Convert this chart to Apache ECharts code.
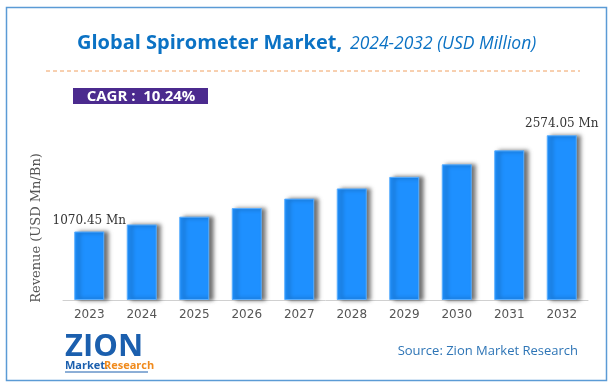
<!DOCTYPE html>
<html>
<head>
<meta charset="utf-8">
<script src="https://cdn.jsdelivr.net/npm/echarts@6/dist/echarts.min.js"></script>
<style>
html,body{margin:0;padding:0;background:#fff;}
#chart{width:613px;height:390px;}
</style>
</head>
<body>
<div id="chart"></div>
<script>
var years = ['2023','2024','2025','2026','2027','2028','2029','2030','2031','2032'];
var revenue = [1070.45, 1180, 1302, 1436, 1584, 1743, 1924, 2120, 2338, 2574.05];
var labelIdx = [0, 9];
var titleMain = 'Global Spirometer Market,';
var titleSub = '2024-2032 (USD Million)';
var cagrText = 'CAGR :  10.24%';
var sourceText = 'Source: Zion Market Research';
var yName = 'Revenue (USD Mn/Bn)';

var chart = echarts.init(document.getElementById('chart'));
chart.setOption({
  animation: false,
  backgroundColor: '#fff',
  grid: {left: 63, right: 25, top: 108, bottom: 90},
  xAxis: {
    type: 'category',
    data: years,
    axisLine: {lineStyle: {color: '#d0d0d0', width: 1}},
    axisTick: {show: false},
    axisLabel: {color: '#555', fontFamily: 'DejaVu Sans', fontSize: 12, margin: 9}
  },
  yAxis: {
    type: 'value', min: 0, max: 3000,
    axisLine: {show: false}, axisTick: {show: false},
    axisLabel: {show: false}, splitLine: {show: false}
  },
  series: [{
    type: 'bar',
    data: revenue,
    barWidth: 30,
    itemStyle: {
      color: '#1e90ff',
      borderColor: '#5aaeff', borderWidth: 1,
      shadowColor: 'rgba(0,0,0,0.55)', shadowBlur: 4, shadowOffsetX: 4, shadowOffsetY: 0
    },
    label: {
      show: true, position: 'top', distance: 5,
      color: '#333', fontFamily: 'DejaVu Serif', fontSize: 12,
      formatter: function (p) {
        return labelIdx.indexOf(p.dataIndex) >= 0 ? p.value.toFixed(2) + ' Mn' : '';
      }
    }
  }],
  graphic: [
    {type: 'rect', shape: {x: 6.5, y: 7.5, width: 600, height: 373}, style: {fill: null, stroke: '#5b9bd5', lineWidth: 1.5}, silent: true},
    {type: 'text', x: 77, y: 43, style: {text: titleMain, fill: '#0b72c4', font: 'bold 20px "Open Sans"', textVerticalAlign: 'middle'}},
    {type: 'text', x: 350, y: 44, style: {text: titleSub, fill: '#0b72c4', font: 'italic 17.5px "Open Sans"', textVerticalAlign: 'middle'}},
    {type: 'line', shape: {x1: 46, y1: 71, x2: 580, y2: 71}, style: {stroke: '#f0a060', lineWidth: 1, lineDash: [4, 3]}},
    {type: 'rect', shape: {x: 73, y: 88, width: 135, height: 16}, style: {fill: '#4b2a8e'}},
    {type: 'text', x: 141, y: 96.5, style: {text: cagrText, fill: '#fff', font: 'bold 15px "Open Sans"', textAlign: 'center', textVerticalAlign: 'middle'}},
    {type: 'text', x: 37, y: 228, rotation: Math.PI / 2, style: {text: yName, fill: '#555', font: '13px "DejaVu Serif"', textAlign: 'center', textVerticalAlign: 'middle'}},
    {type: 'text', x: 65, y: 347, style: {text: 'ZION', fill: '#1b5fae', font: 'bold 31px "Open Sans"', textVerticalAlign: 'middle'}},
    {type: 'text', x: 65, y: 366, style: {text: 'Market.', fill: '#1b5fae', font: 'bold 11px "Open Sans"', textVerticalAlign: 'middle'}},
    {type: 'text', x: 104, y: 366, style: {text: 'Research', fill: '#f08a1c', font: 'bold 11px "Open Sans"', textVerticalAlign: 'middle'}},
    {type: 'line', shape: {x1: 65, y1: 372, x2: 148, y2: 372}, style: {stroke: '#1b5fae', lineWidth: 1}},
    {type: 'text', x: 578, y: 351, style: {text: sourceText, fill: '#2e75b6', font: '13px "Open Sans"', textAlign: 'right', textVerticalAlign: 'middle'}}
  ]
});
</script>
</body>
</html>
